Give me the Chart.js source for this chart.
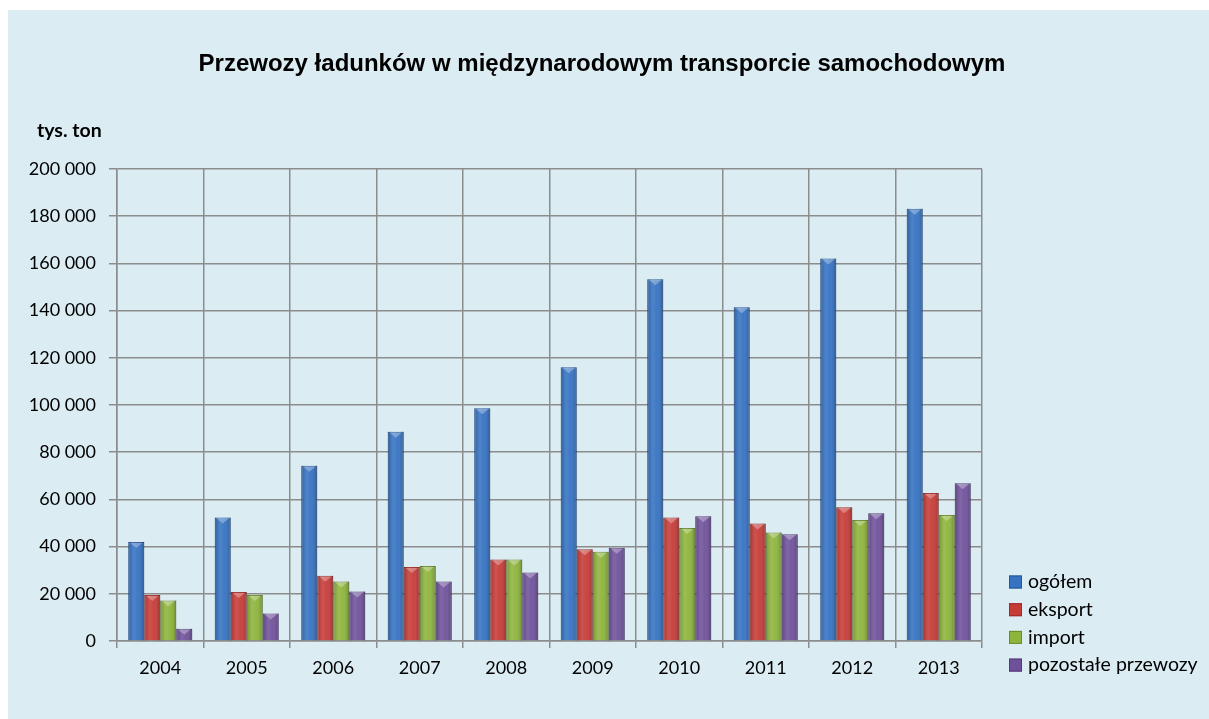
<!DOCTYPE html>
<html>
<head>
<meta charset="utf-8">
<script src="https://cdn.jsdelivr.net/npm/chart.js@4.4.0/dist/chart.umd.min.js"></script>
<style>
  html, body { margin: 0; padding: 0; background: #fff; }
  #wrap { width: 1209px; height: 719px; position: relative; }
</style>
</head>
<body>
<div id="wrap"><canvas id="placeholder"></canvas></div>
<script>
const years = ['2004', '2005', '2006', '2007', '2008', '2009', '2010', '2011', '2012', '2013'];
const ogolem = [42000, 52300, 74300, 88700, 98600, 116000, 153300, 141400, 162100, 183200];
const eksport = [19500, 20800, 27600, 31400, 34500, 38900, 52300, 49800, 56700, 62700];
const importy = [17200, 19500, 25200, 31800, 34500, 37800, 47900, 46000, 51300, 53400];
const pozostale = [5200, 11700, 21000, 25200, 29000, 39500, 52900, 45200, 54100, 66800];
const seriesNames = ['ogółem', 'eksport', 'import', 'pozostałe przewozy'];
const seriesColors = ['#3572c2', '#c73b37', '#8db43b', '#6f519b'];
const seriesBorders = ['#27569a', '#9c2b29', '#6c8a2b', '#54397a'];

const ctx = document.getElementById('placeholder');

const gridColor = '#8c8c8c';
const fmt = (v) => String(v).replace(/\B(?=(\d{3})+(?!\d))/g, ' ');

// tło, tytuł, opis osi, cieniowanie słupków i legenda rysowane ręcznie
const decor = {
    id: 'decor',
    beforeDraw(chart) {
        const c = chart.ctx;
        c.save();
        c.fillStyle = '#dbedf3';
        c.fillRect(8, 10, chart.width - 8, chart.height - 10);
        c.restore();
    },
    afterDatasetsDraw(chart) {
        const c = chart.ctx;
        c.save();
        chart.data.datasets.forEach((ds, i) => {
            chart.getDatasetMeta(i).data.forEach((bar) => {
                const { x, y, width, base } = bar.getProps(['x', 'y', 'width', 'base'], true);
                const l = x - width / 2;
                const g = c.createLinearGradient(l, 0, l + width, 0);
                g.addColorStop(0, 'rgba(0,0,0,0.18)');
                g.addColorStop(0.35, 'rgba(255,255,255,0.12)');
                g.addColorStop(0.6, 'rgba(255,255,255,0.05)');
                g.addColorStop(1, 'rgba(0,0,0,0.25)');
                c.fillStyle = g;
                c.fillRect(l, y, width, base - y);
                // jasny trójkąt na szczycie słupka
                c.fillStyle = 'rgba(255,255,255,0.3)';
                c.beginPath();
                c.moveTo(l + 2, y + 1);
                c.lineTo(l + width - 2, y + 1);
                c.lineTo(x, y + 6);
                c.closePath();
                c.fill();
            });
        });
        c.restore();
    },
    afterDraw(chart) {
        const c = chart.ctx;
        c.save();
        c.fillStyle = '#000';
        c.textBaseline = 'middle';
        c.textAlign = 'center';
        c.font = 'bold 24px "Liberation Sans"';
        c.fillText('Przewozy ładunków w międzynarodowym transporcie samochodowym', 602, 64);

        c.textAlign = 'left';
        c.font = 'bold 19.5px Lato';
        c.fillText('tys. ton', 37, 131);

        c.font = '19.5px Lato';
        chart.data.datasets.forEach((ds, i) => {
            const y = 582 + i * 27.7;
            c.fillStyle = ds.backgroundColor;
            c.fillRect(1009, y - 6.5, 13, 13);
            c.strokeStyle = ds.borderColor;
            c.lineWidth = 1;
            c.strokeRect(1009.5, y - 6, 12, 12);
            c.fillStyle = '#000';
            c.fillText(ds.label, 1028, y);
        });
        c.restore();
    }
};

const data = {
    labels: years,
    datasets: [ogolem, eksport, importy, pozostale].map((values, i) => ({
        label: seriesNames[i],
        data: values,
        backgroundColor: seriesColors[i],
        borderColor: seriesBorders[i],
        borderWidth: 1,
        borderSkipped: 'bottom',
        categoryPercentage: 0.74,
        barPercentage: 1.0,
    }))
};

const config = {
    type: 'bar',
    data: data,
    options: {
        responsive: true,
        maintainAspectRatio: false,
        animation: false,
        layout: {
            padding: { left: 0, right: 227, top: 169, bottom: 38 }
        },
        plugins: {
            legend: { display: false },
            tooltip: { enabled: false },
            title: { display: false }
        },
        scales: {
            x: {
                grid: { color: gridColor, lineWidth: 1.5, offset: true, tickLength: 7 },
                border: { color: gridColor, width: 1.5 },
                ticks: { color: '#000', font: { family: 'Lato', size: 18 }, padding: 9, maxRotation: 0 },
                afterFit: (scale) => { scale.height = 40; }
            },
            y: {
                min: 0,
                max: 200000,
                grid: { color: gridColor, lineWidth: 1.5, tickLength: 8 },
                border: { color: gridColor, width: 1.5 },
                ticks: {
                    stepSize: 20000,
                    color: '#000',
                    font: { family: 'Lato', size: 18 },
                    padding: 13,
                    callback: (v) => fmt(v)
                },
                afterFit: (scale) => { scale.width = 117; }
            }
        }
    },
    plugins: [decor]
};

const barChart = new Chart(ctx, config);
</script>
</body>
</html>
